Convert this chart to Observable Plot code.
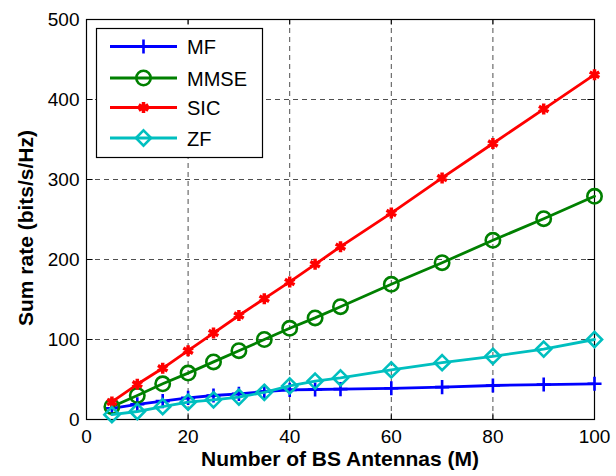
<!DOCTYPE html>
<html><head><meta charset="utf-8">
<script src="https://cdn.jsdelivr.net/npm/d3@7"></script>
<script src="https://cdn.jsdelivr.net/npm/@observablehq/plot@0.6"></script>
<style>
html,body{margin:0;padding:0;background:#fff;}
#chart{position:relative;width:616px;height:476px;}
svg{font-family:"Liberation Sans",Arial,sans-serif;}
</style></head>
<body><div id="chart"></div>
<script>
const M = [5,10,15,20,25,30,35,40,45,50,60,70,80,90,100];
const MF = [14,19,23,27,30,32,35,37,37.5,38,39,40.5,42.5,43.7,44.6];
const MMSE = [16,30,44.6,58,72,86,100,114,127,141,169,196,224,251,279];
const SIC = [22,44,64,86,108,130,151,172,194,216,258,302,345,388,431];
const ZF = [6,10,16,21.6,24.6,28,34,42,48,52,62,71,79,88,100];
const xTicks = [0,20,40,60,80,100];
const yTicks = [0,100,200,300,400,500];
const seriesNames = ["MF","MMSE","SIC","ZF"];
const seriesColors = ["#0000ff","#008000","#ff0000","#00bfbf"];
const seriesSymbols = ["plus","circle","asterisk","diamond2"];
const seriesValues = [MF, MMSE, SIC, ZF];

const data = [];
seriesNames.forEach((s,i)=>M.forEach((m,j)=>data.push({series:s, m, v:seriesValues[i][j]})));

const marks = [
  Plot.gridX(xTicks.slice(1,-1), {stroke:"#222", strokeOpacity:1, strokeWidth:0.8, strokeDasharray:"5,4"}),
  Plot.gridY(yTicks.slice(1,-1), {stroke:"#222", strokeOpacity:1, strokeWidth:0.8, strokeDasharray:"5,4"}),
  Plot.axisX(xTicks, {tickSize:0, tickPadding:10, fontSize:19, label:null}),
  Plot.axisY(yTicks, {tickSize:0, tickPadding:7, fontSize:19, label:null}),
  Plot.ruleX(xTicks, {x:d=>d, y1:0, y2:7, stroke:"#000", strokeWidth:1}),
  Plot.ruleX(xTicks, {x:d=>d, y1:493, y2:500, stroke:"#000", strokeWidth:1}),
  Plot.ruleY(yTicks, {y:d=>d, x1:0, x2:1.3, stroke:"#000", strokeWidth:1}),
  Plot.ruleY(yTicks, {y:d=>d, x1:98.7, x2:100, stroke:"#000", strokeWidth:1}),
  Plot.frame({stroke:"#000", strokeWidth:1.2})
];
const rs = {plus:4.6, circle:7.2, asterisk:5.2, diamond2:6.8};
seriesNames.forEach((s,i)=>{
  const d = data.filter(e=>e.series===s);
  marks.push(Plot.line(d, {x:"m", y:"v", stroke:seriesColors[i], strokeWidth:2.8}));
  marks.push(Plot.dot(d, {x:"m", y:"v", symbol:seriesSymbols[i], r:rs[seriesSymbols[i]], stroke:seriesColors[i], strokeWidth:s==="SIC"?3.5:2.6, fill:"none"}));
});

const chart = Plot.plot({
  width:616, height:476,
  marginLeft:86, marginRight:22, marginTop:19, marginBottom:57,
  style:{fontFamily:"'Liberation Sans', Arial, sans-serif", fontSize:"19px", color:"#000", background:"#fff"},
  x:{domain:[0,100]},
  y:{domain:[0,500]},
  marks
});
document.getElementById("chart").appendChild(chart);

const svg = d3.select(chart);
svg.append("text").attr("x",340).attr("y",466).attr("text-anchor","middle")
  .attr("font-size",21).attr("font-weight","bold").attr("fill","#000")
  .text("Number of BS Antennas (M)");
svg.append("text").attr("transform","translate(33,228) rotate(-90)").attr("text-anchor","middle")
  .attr("font-size",21).attr("font-weight","bold").attr("fill","#000")
  .text("Sum rate (bits/s/Hz)");

// legend
const lg = svg.append("g").attr("text-anchor","start");
lg.append("rect").attr("x",96.5).attr("y",28.5).attr("width",166).attr("height",129)
  .attr("fill","#fff").attr("stroke","#000").attr("stroke-width",1.2);
const rowsY = [46.5,78,107.5,138];
const symMap = {plus:d3.symbolPlus, circle:d3.symbolCircle, asterisk:d3.symbolAsterisk, diamond2:d3.symbolDiamond2};
seriesNames.forEach((s,i)=>{
  const y = rowsY[i];
  lg.append("line").attr("x1",110).attr("x2",177).attr("y1",y).attr("y2",y)
    .attr("stroke",seriesColors[i]).attr("stroke-width",2.8);
  const r = rs[seriesSymbols[i]];
  lg.append("path").attr("transform",`translate(143.5,${y})`)
    .attr("d", d3.symbol(symMap[seriesSymbols[i]], Math.PI*r*r)())
    .attr("fill","none").attr("stroke",seriesColors[i]).attr("stroke-width",s==="SIC"?3.5:2.6);
  lg.append("text").attr("x",187).attr("y",y+7.5).attr("text-anchor","start")
    .attr("font-size",20).attr("fill","#000").text(s);
});
</script>
</body></html>
